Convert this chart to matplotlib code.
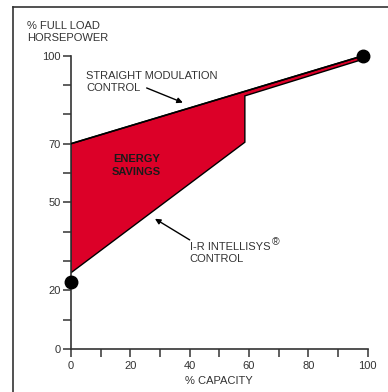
import numpy as np
import matplotlib
matplotlib.use("Agg")
import matplotlib.pyplot as plt
from matplotlib.lines import Line2D

plt.rcParams["font.family"] = ["Liberation Sans", "DejaVu Sans"]

# straight modulation control (top edge of savings area)
cap_straight = [0, 98.5]
hp_straight = [70, 100]

# I-R Intellisys control (bottom edge of savings area)
cap_ir = [0, 58.6, 58.6, 98.5]
hp_ir = [26, 70.5, 86.3, 98.8]

# end point markers
dot_cap = [0, 98.5]
dot_hp = [23, 100]

x_ticks = [0, 20, 40, 60, 80, 100]
x_minor = [10, 30, 50, 70, 90]
y_ticks = [0, 10, 20, 30, 40, 50, 60, 70, 80, 90, 100]
y_labels = ["0", "", "20", "", "", "50", "", "70", "", "", "100"]

RED = "#dc0028"
INK = "#333333"
FS = 8

fig = plt.figure(figsize=(3.88, 3.92), dpi=100)
ax = fig.add_axes([71 / 388, 43 / 392, 296.7 / 388, 293.3 / 392])

# savings polygon: along the straight line, back along the I-R curve
poly_x = list(cap_straight) + cap_ir[::-1]
poly_y = list(hp_straight) + hp_ir[::-1]
ax.fill(poly_x, poly_y, facecolor=RED, edgecolor="black", linewidth=1.0, zorder=2)
ax.plot(cap_straight, hp_straight, color="black", linewidth=1.2, zorder=3)
ax.plot(dot_cap, dot_hp, "o", color="black", markersize=9, clip_on=False, zorder=5)

ax.set_xlim(0, 100)
ax.set_ylim(0, 100)
for s in ["top", "right"]:
    ax.spines[s].set_visible(False)
for s in ["left", "bottom"]:
    ax.spines[s].set_color(INK)
    ax.spines[s].set_linewidth(1.2)

ax.set_xticks(x_ticks)
ax.set_xticks(x_minor, minor=True)
ax.set_yticks(y_ticks)
ax.set_yticklabels(y_labels)
ax.tick_params(axis="both", which="both", length=6, width=1.1, color=INK,
               labelsize=FS, labelcolor=INK, direction="out")
ax.tick_params(axis="x", pad=2.5)
ax.tick_params(axis="y", pad=1.5)

ax.set_xlabel("% CAPACITY", fontsize=FS, color=INK, labelpad=4)

fig.text(27 / 388, 1 - 21 / 392, "% FULL LOAD\nHORSEPOWER", fontsize=FS, color=INK,
         ha="left", va="top", linespacing=1.25)

ax.text(5.1, 91, "STRAIGHT MODULATION\nCONTROL", fontsize=FS, color=INK,
        ha="left", va="center", linespacing=1.2)
ax.annotate("", xy=(37.7, 84), xytext=(25.5, 89),
            arrowprops=dict(arrowstyle="-|>", color="black", lw=1.0,
                            mutation_scale=8, shrinkA=0, shrinkB=0))

ax.text(22.1, 62.5, "ENERGY\nSAVINGS", fontsize=FS, fontweight="bold", color="#1a1a1a",
        ha="center", va="center", linespacing=1.3)

t_ir = ax.text(40, 32.8, "I-R INTELLISYS\nCONTROL", fontsize=FS, color=INK,
               ha="left", va="center", linespacing=1.2)
ax.annotate("\u00ae", xy=(1, 1), xycoords=t_ir, xytext=(1, 3.5),
            textcoords="offset points", fontsize=7.5, color=INK, ha="left", va="top")
ax.annotate("", xy=(28.3, 44.4), xytext=(40, 37.2),
            arrowprops=dict(arrowstyle="-|>", color="black", lw=1.0,
                            mutation_scale=8, shrinkA=0, shrinkB=0))

# outer frame lines (left and top)
fig.add_artist(Line2D([13 / 388, 13 / 388], [0, 1 - 7 / 392], color=INK, lw=1.2,
                      transform=fig.transFigure))
fig.add_artist(Line2D([13 / 388, 1], [1 - 7 / 392, 1 - 7 / 392], color=INK, lw=1.2,
                      transform=fig.transFigure))

fig.savefig("out.png", dpi=100)
